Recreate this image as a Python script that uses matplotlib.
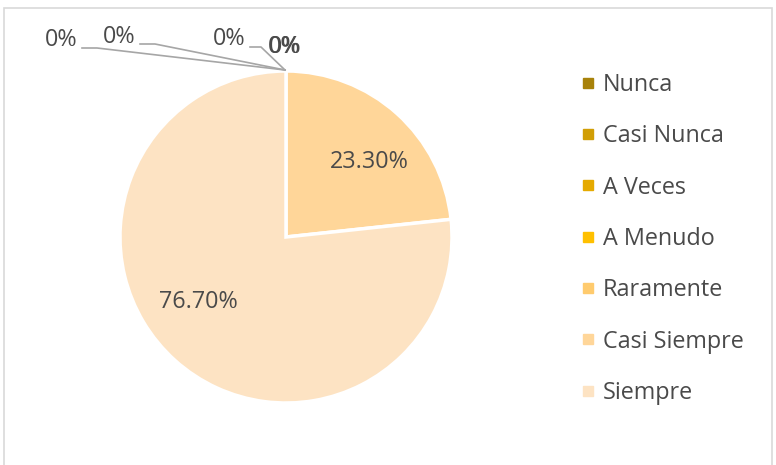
import matplotlib
matplotlib.use("Agg")
import matplotlib.pyplot as plt
from matplotlib.lines import Line2D
from matplotlib.patches import Rectangle

categories = ["Nunca", "Casi Nunca", "A Veces", "A Menudo", "Raramente", "Casi Siempre", "Siempre"]
values = [0.0, 0.0, 0.0, 0.0, 0.0, 23.30, 76.70]
colors = ["#A8820A", "#D19E05", "#E5AA00", "#FFC000", "#FFCB6E", "#FFD699", "#FDE3C3"]

W, H = 776, 465
fig = plt.figure(figsize=(W / 100, H / 100), dpi=100)
ax = fig.add_axes([0, 0, 1, 1])

plt.rcParams["font.family"] = ["Open Sans", "DejaVu Sans"]
txt_color = "#4A4A4A"
fs = 16.8

cx, cy, r = 286, H - 237, 166
ax.pie(values, colors=colors, startangle=90, counterclock=False, radius=r, center=(cx, cy),
       wedgeprops=dict(edgecolor="white", linewidth=2.5), frame=True)
ax.set_xlim(0, W)
ax.set_ylim(0, H)
ax.set_aspect("equal")
ax.axis("off")

# border
ax.add_patch(Rectangle((3.5, -5), 768.5, H - 7.5 + 5, fill=False, edgecolor="#D9D9D9", linewidth=1.2))

def lab(v):
    return "0%" if v == 0 else f"{v:.2f}%"

# big labels
ax.text(369, H - 162, lab(values[5]), ha="center", va="center", fontsize=fs, color=txt_color)
ax.text(198, H - 302, lab(values[6]), ha="center", va="center", fontsize=fs, color=txt_color)

# zero labels with leader lines
tip = (285, H - 70)
zero_pos = [(61, 40), (119, 37), (229, 39), (284, 47), (285, 47)]
leaders = [[(82, 48), (97, 48)], [(140, 44), (155, 44)], [(250, 47), (261, 47)], None, None]
for (x, y), ld in zip(zero_pos, leaders):
    ax.text(x, H - y, "0%", ha="center", va="center", fontsize=fs, color=txt_color)
    if ld:
        xs = [p[0] for p in ld] + [tip[0]]
        ys = [H - p[1] for p in ld] + [tip[1]]
        ax.plot(xs, ys, color="#A6A6A6", linewidth=1.2)

handles = [Line2D([0], [0], marker="s", linestyle="none", markersize=7, markerfacecolor=c,
                  markeredgecolor=c) for c in colors]
leg = ax.legend(handles, categories, loc="upper left", bbox_to_anchor=(582 / W, 1 - 73 / H),
                frameon=False, fontsize=fs, labelspacing=1.17, handlelength=0.5,
                handletextpad=0.41, borderaxespad=0, borderpad=0)
for t in leg.get_texts():
    t.set_color(txt_color)

fig.savefig("out.png", dpi=100)
